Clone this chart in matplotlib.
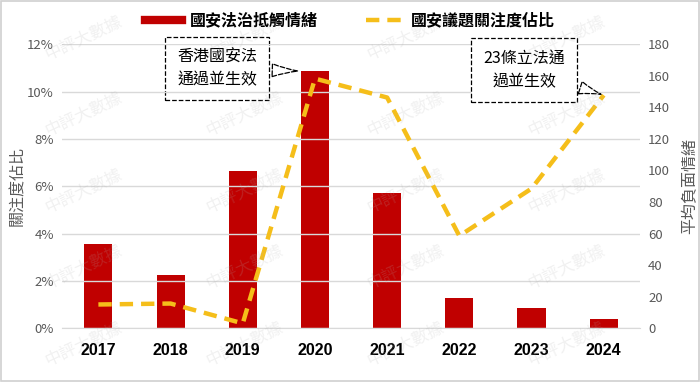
import matplotlib
matplotlib.use("Agg")
import matplotlib.pyplot as plt
from matplotlib.patches import Rectangle
from matplotlib.lines import Line2D

plt.rcParams['font.family'] = ['Noto Sans CJK TC', 'DejaVu Sans']

years = ["2017", "2018", "2019", "2020", "2021", "2022", "2023", "2024"]
# 國安法治抵觸情緒 (right axis, 平均負面情緒)
sentiment = [53.5, 34, 99.5, 163, 86, 19, 12.5, 6]
# 國安議題關注度佔比 (left axis, %)
attention = [1.0, 1.04, 0.2, 10.55, 9.75, 3.9, 5.9, 9.85]

red = "#C00000"
gold = "#F5BE1A"
gray = "#595959"

fig = plt.figure(figsize=(7, 3.82), dpi=100)
ax = fig.add_axes([0.089, 0.141, 0.825, 0.743])
ax2 = ax.twinx()
ax.set_zorder(ax2.get_zorder() + 1)
ax.patch.set_visible(False)

x = list(range(len(years)))
ax2.bar(x, sentiment, width=0.39, color=red, zorder=2)
ax.plot(x, attention, color=gold, lw=3.2, ls=(0, (3, 1.8)), zorder=3)

ax.set_xlim(-0.5, len(years) - 0.5)
ax.set_ylim(0, 12)
ax2.set_ylim(0, 180)
ax.set_yticks(range(0, 13, 2))
ax.set_yticklabels([f"{v}%" for v in range(0, 13, 2)])
ax2.set_yticks(range(0, 181, 20))
ax.set_xticks(x)
ax.set_xticklabels(years, fontsize=11.5, fontweight="bold", color="black",
                   family=["Liberation Sans", "DejaVu Sans"])
ax.tick_params(axis="x", length=0, pad=11)
ax.tick_params(axis="y", length=0, labelsize=9.5, labelcolor=gray, pad=6)
ax2.tick_params(axis="y", length=0, labelsize=9.5, labelcolor=gray, pad=6)
ax.grid(axis="y", color="#D9D9D9", lw=1)
ax.set_axisbelow(True)
for a in (ax, ax2):
    for s in a.spines.values():
        s.set_visible(False)
ax.spines["bottom"].set_visible(True)
ax.spines["bottom"].set_color("#D9D9D9")

ax.set_ylabel("關注度佔比", fontsize=11.5, color=gray, labelpad=1)
ax2.set_ylabel("平均負面情緒", fontsize=11.5, color=gray, labelpad=8, rotation=90)

# callouts
box = dict(boxstyle="square,pad=0.75", fc="white", ec="black", ls="--", lw=0.9)
arrow = dict(arrowstyle="wedge,tail_width=0.8,shrink_factor=0.4", fc="white",
             ec="black", ls="--", lw=0.9)
ax2.annotate("香港國安法\n通過並生效", xy=(3 - 0.2, sentiment[3]), xycoords="data",
             xytext=(0.268, 0.915), textcoords="axes fraction", ha="center", va="center",
             fontsize=11.5, linespacing=1.45, bbox=box, arrowprops=arrow, zorder=10)
ax.annotate("23條立法通\n過並生效", xy=(7, attention[7]), xycoords="data",
            xytext=(0.80, 0.91), textcoords="axes fraction", ha="center", va="center",
            fontsize=11.5, linespacing=1.45, bbox=box, arrowprops=arrow, zorder=10)

# legend
handles = [Line2D([], [], color=red, lw=6),
           Line2D([], [], color=gold, lw=3.2, ls=(0, (3, 1.8)))]
fig.legend(handles, ["國安法治抵觸情緒", "國安議題關注度佔比"], loc="upper center",
           bbox_to_anchor=(0.5, 1.005), ncol=2, frameon=False, handlelength=2.3,
           handletextpad=0.5, columnspacing=3.0, prop=dict(size=11.5, weight="bold"))

# watermarks
for wy in [0.9, 0.7, 0.5, 0.3, 0.1]:
    for wx in [0.12, 0.35, 0.58, 0.81]:
        fig.text(wx, wy, "中評大數據", fontsize=12, color="#B0B0B0", alpha=0.18,
                 rotation=25, ha="center", va="center")

fig.patches.append(Rectangle((0.002, 0.003), 0.996, 0.994, transform=fig.transFigure,
                             fill=False, ec="#D0D0D0", lw=1.2))

fig.savefig("out.png", dpi=100)
